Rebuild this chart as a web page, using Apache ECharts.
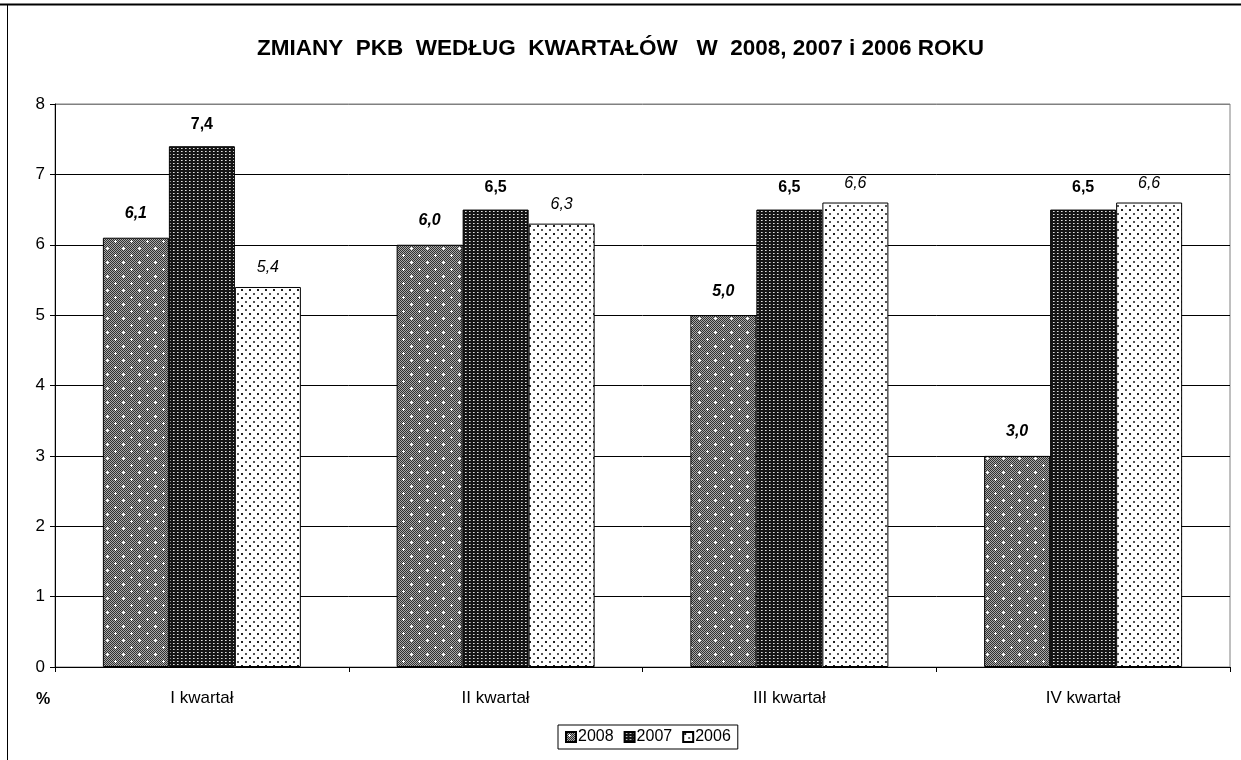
<!DOCTYPE html>
<html>
<head>
<meta charset="utf-8">
<script src="https://cdn.jsdelivr.net/npm/echarts@6/dist/echarts.min.js"></script>
<style>html,body{margin:0;padding:0;background:#fff;}#c{width:1241px;height:760px;}</style>
</head>
<body>
<div id="c"></div>
<script>
const categories = ['I kwartał', 'II kwartał', 'III kwartał', 'IV kwartał'];
const seriesNames = ['2008', '2007', '2006'];
const values2008 = [6.1, 6.0, 5.0, 3.0];
const values2007 = [7.4, 6.5, 6.5, 6.5];
const values2006 = [5.4, 6.3, 6.6, 6.6];
const yTicks = [0, 1, 2, 3, 4, 5, 6, 7, 8];
const titleText = 'ZMIANY  PKB  WEDŁUG  KWARTAŁÓW   W  2008, 2007 i 2006 ROKU';

function makeTile(w, h, draw) {
  const c = document.createElement('canvas');
  c.width = w; c.height = h;
  const g = c.getContext('2d');
  draw(g, w, h);
  return c;
}
function px(g, x, y, col) { g.fillStyle = col; g.fillRect(x, y, 1, 1); }

// 2008: fine gray checker with white plus marks on staggered grid
const tile2008 = makeTile(16, 14, (g, w, h) => {
  for (let y = 0; y < h; y++) for (let x = 0; x < w; x++)
    px(g, x, y, ((x + y) % 2 === 0) ? '#303030' : '#a8a8a8');
  const plus = (cx, cy) => {
    g.fillStyle = '#ffffff';
    g.fillRect(cx - 1, cy, 3, 1);
    g.fillRect(cx, cy - 1, 1, 3);
  };
  plus(3, 3); plus(11, 10);
});
// 2007: dark with light dots in dense grid
const tile2007 = makeTile(4, 3, (g, w, h) => {
  g.fillStyle = '#151515'; g.fillRect(0, 0, w, h);
  px(g, 1, 1, '#e0e0e0');
  px(g, 2, 1, '#909090');
});
// 2006: white with sparse dark dots
const tile2006 = makeTile(8, 8, (g, w, h) => {
  g.fillStyle = '#ffffff'; g.fillRect(0, 0, w, h);
  g.fillStyle = '#222'; g.fillRect(1, 1, 2, 2);
  g.fillStyle = '#555'; g.fillRect(5, 5, 2, 2);
});

const fmt = p => p.value.toFixed(1).replace('.', ',');
const font = 'Liberation Sans, Arial, sans-serif';

function mkSeries(name, data, tile, labelWeight, labelStyle, dist) {
  return {
    name: name, type: 'bar', data: data,
    barWidth: 66, barGap: '0%',
    itemStyle: { color: { image: tile, repeat: 'repeat' }, borderColor: '#000', borderWidth: 1 },
    label: {
      show: true, position: 'top', distance: dist, formatter: fmt,
      fontFamily: font, fontSize: 16, fontWeight: labelWeight, fontStyle: labelStyle, color: '#000'
    },
    emphasis: { disabled: true }
  };
}

const splitColors = yTicks.map((t, i) => i === yTicks.length - 1 ? '#808080' : '#000');

const chart = echarts.init(document.getElementById('c'), null, { renderer: 'canvas' });
chart.setOption({
  animation: false,
  backgroundColor: '#fff',
  title: {
    text: titleText, left: 'center', top: 32,
    textStyle: { fontFamily: font, fontSize: 22.5, fontWeight: 'bold', color: '#000' }
  },
  legend: {
    data: seriesNames, left: 558, top: 725,
    orient: 'horizontal', icon: 'rect', itemWidth: 10, itemHeight: 10, itemGap: 10,
    padding: [4, 7, 4, 7], borderColor: '#000', borderWidth: 1,
    textStyle: { fontFamily: font, fontSize: 16, color: '#000', padding: [0, 0, 0, -3] }
  },
  grid: {
    left: 55, right: 11, top: 104, bottom: 93,
    show: true, borderColor: '#808080', borderWidth: 1, backgroundColor: 'transparent'
  },
  xAxis: {
    type: 'category', data: categories,
    axisLine: { show: true, lineStyle: { color: '#000', width: 1 } },
    axisTick: { show: true, length: 5, alignWithLabel: false, lineStyle: { color: '#000' } },
    axisLabel: { fontFamily: font, fontSize: 17, color: '#000', margin: 23 },
    splitLine: { show: false }
  },
  yAxis: {
    type: 'value', min: 0, max: 8, interval: 1,
    axisLine: { show: true, lineStyle: { color: '#000', width: 1 } },
    axisTick: { show: true, length: 5, inside: false, lineStyle: { color: '#000' } },
    axisLabel: { fontFamily: font, fontSize: 17, color: '#000', margin: 10 },
    splitLine: { show: true, lineStyle: { color: splitColors, width: 1 } }
  },
  series: [
    mkSeries(seriesNames[0], values2008, tile2008, 'bold', 'italic', 16),
    mkSeries(seriesNames[1], values2007, tile2007, 'bold', 'normal', 14),
    mkSeries(seriesNames[2], values2006, tile2006, 'normal', 'italic', 11)
  ],
  graphic: [
    { type: 'line', shape: { x1: 0, y1: 4.5, x2: 1241, y2: 4.5 }, style: { stroke: '#000', lineWidth: 2 }, silent: true },
    { type: 'line', shape: { x1: 7.5, y1: 4, x2: 7.5, y2: 760 }, style: { stroke: '#000', lineWidth: 1 }, silent: true },
    { type: 'text', left: 36, top: 692, style: { text: '%', font: 'bold 16px ' + font, fill: '#000' }, silent: true }
  ]
});
</script>
</body>
</html>
